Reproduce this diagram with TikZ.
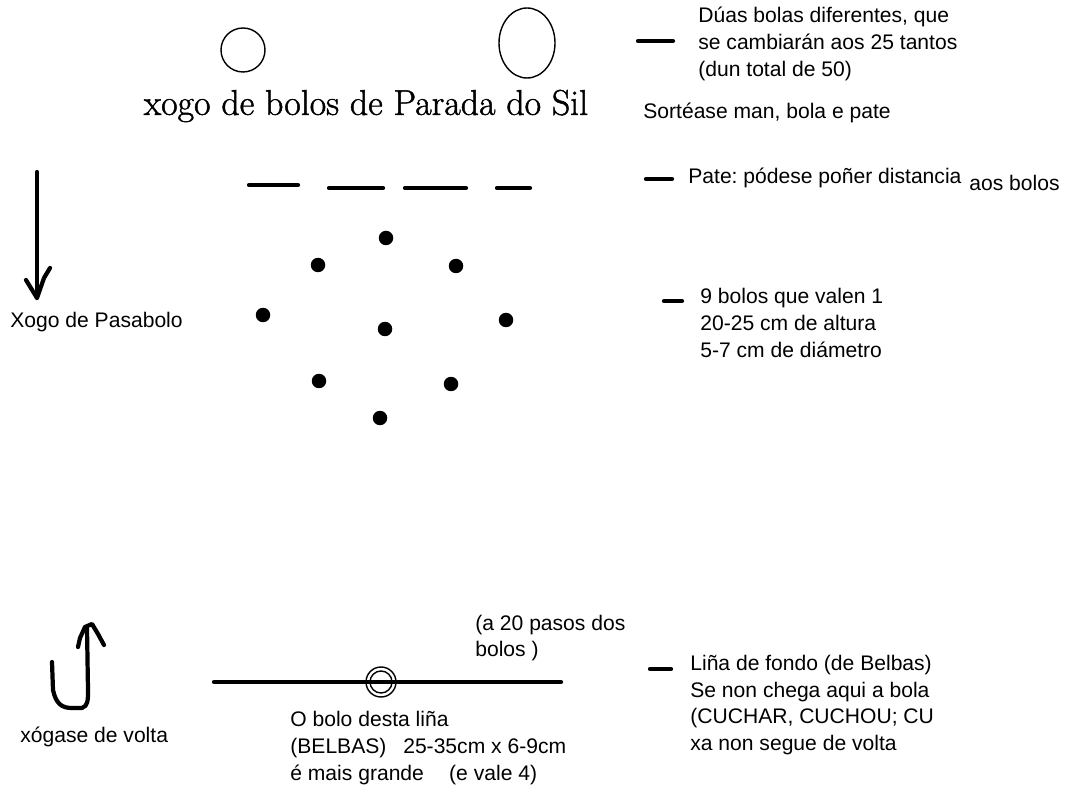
\documentclass[tikz,border=0pt]{standalone}
\usepackage{fontspec}
\newfontfamily\arialfont{Liberation Sans}
\newfontfamily\titlefont{Latin Modern Roman}[FakeBold=1.3]
\usetikzlibrary{positioning}
\frenchspacing
\tikzset{
  nota/.style={font=\arialfont\fontsize{12}{15.2}\selectfont, align=left, anchor=west, inner sep=0pt},
  trazo/.style={line width=2.4pt, line cap=round, line join=round},
  bolo/.style={circle, fill=black, inner sep=0pt, minimum size=0.29cm},
  bola/.style={line width=0.8pt}
}

\begin{document}
\begin{tikzpicture}[x=0.02cm,y=-0.02cm]
% xogo de bolos - esquema
\useasboundingbox (0,0) rectangle (1074,793);

% bolas e titulo
\draw[bola] (243,50) circle (22);
\draw[bola] (527,43) ellipse (28 and 35);
\node[font=\titlefont\fontsize{20.4}{24}\selectfont, inner sep=0pt] (titulo) at (366,106) {xogo de bolos de Parada do Sil};

\draw[trazo] (638,41) -- (673,41);
\node[nota] (bolas) at (698,44) {Dúas bolas diferentes, que\\se cambiarán aos 25 tantos\\(dun total de 50)};
\node[nota] (sorteo) at (643,113) {Sortéase man, bola e pate};

% pates
\draw[trazo] (249,185) -- (298,185);
\draw[trazo] (329,188) -- (383,188);
\draw[trazo] (405,188) -- (466,188);
\draw[trazo] (497,188) -- (530,188);
\draw[trazo] (646,179) -- (672,179);
\node[nota] (pate) at (688,178) {Pate: pódese poñer distancia};
\node[nota] (aos) at (969,183) {aos bolos};

% pasabolo
\coordinate (Pt) at (37,172);
\coordinate (Pb) at (37,298);
\draw[trazo] (Pt) -- (Pb);
\draw[trazo] (26,280) -- (Pb) -- (44,278) -- (50,268);
\node[nota] (pasabolo) at (10,322) {Xogo de Pasabolo};

% os 9 bolos
\node[bolo] (b1) at (386,238) {};
\node[bolo] (b2) at (318,265) {};
\node[bolo] (b3) at (456,266) {};
\node[bolo] (b4) at (263,315) {};
\node[bolo] (b5) at (385,329) {};
\node[bolo] (b6) at (506,320) {};
\node[bolo] (b7) at (319,381) {};
\node[bolo] (b8) at (451,384) {};
\node[bolo] (b9) at (380,418) {};

\draw[trazo] (664,301) -- (682,301);
\node[nota] (nove) at (700,323) {9 bolos que valen 1\\20-25 cm de altura\\5-7 cm de diámetro};

% volta
\draw[trazo] (52,662) -- (53,690) .. controls (56,704) and (62,708) .. (72,708) -- (82,708) .. controls (88,706) and (88,700) .. (88,690) -- (87,628);
\draw[trazo] (78,647) -- (80,638) -- (85,627) -- (92,624) -- (98,634) -- (104,645);
\node[nota] (volta) at (20,737) {xógase de volta};

% lina de fondo
\coordinate (Fl) at (214,682);
\coordinate (Fr) at (561,682);
\draw[trazo] (Fl) -- (Fr);
\draw[bola] (381,682) circle (15);
\draw[bola] (381,682) circle (11);
\node[nota] (pasos) at (475,638) {(a 20 pasos dos\\bolos )};
\node[nota] (belba) at (290,748) {O bolo desta liña\\(BELBAS)\hspace{0.8em}25-35cm x 6-9cm\\é mais grande\hspace{1.2em}(e vale 4)};

\draw[trazo] (650,669) -- (671,669);
\node[nota] (fondo) at (690,705) {Liña de fondo (de Belbas)\\Se non chega aqui a bola\\(CUCHAR, CUCHOU; CU\\xa non segue de volta};

\end{tikzpicture}
\end{document}
